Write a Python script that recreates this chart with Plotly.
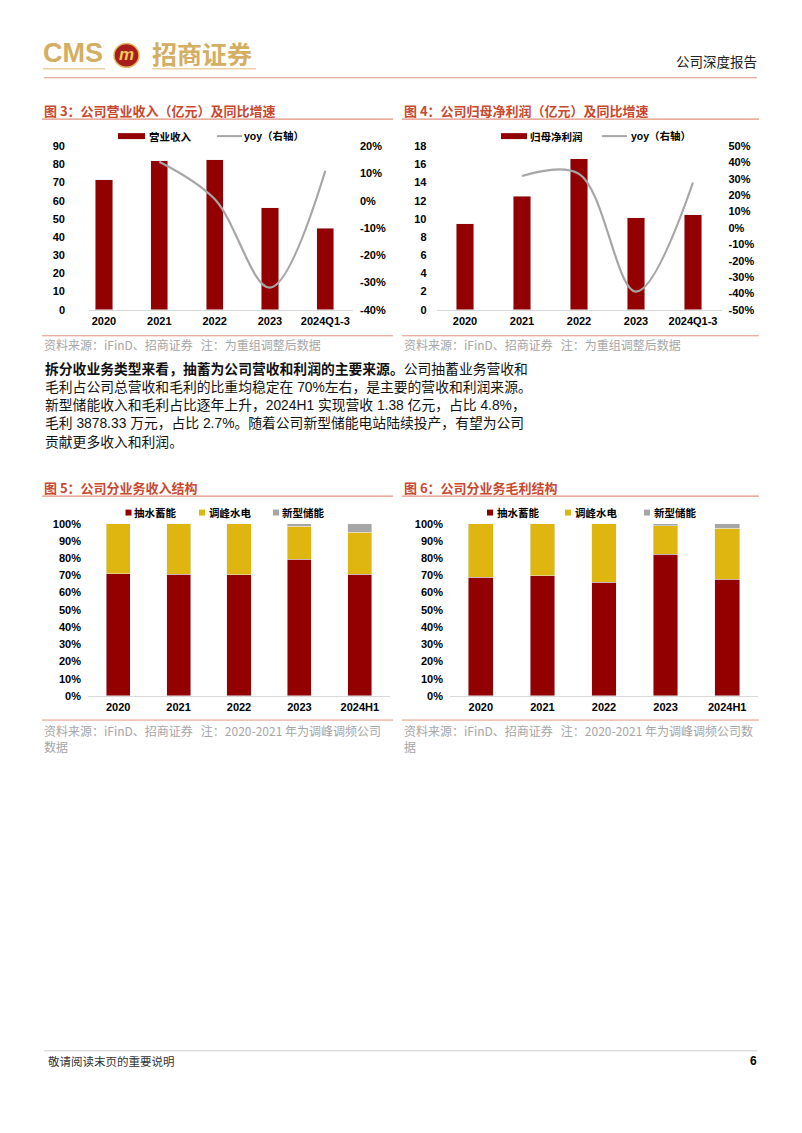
import plotly.graph_objects as go

# ---------------- data ----------------
years_a = ["2020", "2021", "2022", "2023", "2024Q1-3"]
revenue = [71.6, 82.0, 82.5, 56.2, 44.9]            # 营业收入 (亿元)
revenue_yoy = [None, 14.3, 0.6, -31.9, 11.0]        # yoy %
profit = [9.46, 12.47, 16.6, 10.15, 10.47]          # 归母净利润 (亿元)
profit_yoy = [None, 31.8, 33.1, -38.9, 27.8]        # yoy %

years_b = ["2020", "2021", "2022", "2023", "2024H1"]
rev_pumped = [70.9, 70.7, 70.5, 79.5, 70.7]         # 抽水蓄能
rev_peak = [29.1, 29.3, 29.5, 19.0, 24.5]           # 调峰水电
rev_new = [0.0, 0.0, 0.0, 1.5, 4.8]                 # 新型储能
gp_pumped = [68.8, 69.9, 65.9, 82.4, 67.8]
gp_peak = [31.2, 30.1, 34.1, 16.4, 29.5]
gp_new = [0.0, 0.0, 0.0, 1.2, 2.7]

# right-axis tick labels (hyphen minus as in the reference)
yoy3_ticks = [-40, -30, -20, -10, 0, 10, 20]
yoy3_labels = ["-40%", "-30%", "-20%", "-10%", "0%", "10%", "20%"]
yoy4_ticks = [-50, -40, -30, -20, -10, 0, 10, 20, 30, 40, 50]
yoy4_labels = ["-50%", "-40%", "-30%", "-20%", "-10%", "0%", "10%", "20%", "30%", "40%", "50%"]

# ---------------- styles ----------------
W, H = 802, 1133
RED = "#920000"
YEL = "#DEB60F"
GRY = "#A6A6A6"
TITLE_RED = "#C8492E"
LINE_RED = "#E2927E"
GOLD = "#D4AE62"
NUM_FONT = "Liberation Sans, Arial, Noto Sans CJK SC"
CJK_FONT = "Noto Sans CJK SC, Liberation Sans"


def X(x):
    return x / W


def Y(y):
    return 1 - y / H


TF = dict(family=NUM_FONT, size=11, color="#000000", weight="bold")

fig = go.Figure()

# Chart 3
fig.add_trace(go.Bar(x=years_a, y=revenue, name="营业收入", marker_color=RED,
                     width=0.31, xaxis="x", yaxis="y"))
fig.add_trace(go.Scatter(x=years_a, y=revenue_yoy, name="yoy（右轴）", mode="lines",
                         line=dict(color=GRY, width=2.2, shape="spline", smoothing=1.0),
                         xaxis="x", yaxis="y2"))
# Chart 4
fig.add_trace(go.Bar(x=years_a, y=profit, name="归母净利润", marker_color=RED,
                     width=0.30, xaxis="x2", yaxis="y3"))
fig.add_trace(go.Scatter(x=years_a, y=profit_yoy, name="yoy（右轴）", mode="lines",
                         line=dict(color=GRY, width=2.2, shape="spline", smoothing=1.0),
                         xaxis="x2", yaxis="y4"))
# Chart 5
for vals, col, nm in [(rev_pumped, RED, "抽水蓄能"), (rev_peak, YEL, "调峰水电"), (rev_new, GRY, "新型储能")]:
    fig.add_trace(go.Bar(x=years_b, y=vals, name=nm, marker_color=col, width=0.4,
                         xaxis="x3", yaxis="y5"))
# Chart 6
for vals, col, nm in [(gp_pumped, RED, "抽水蓄能"), (gp_peak, YEL, "调峰水电"), (gp_new, GRY, "新型储能")]:
    fig.add_trace(go.Bar(x=years_b, y=vals, name=nm, marker_color=col, width=0.4,
                         xaxis="x4", yaxis="y6"))


def xax(d0, d1, rng, anchor):
    return dict(domain=[X(d0), X(d1)], range=rng, type="category", anchor=anchor,
                showline=True, linecolor="#D9D9D9", linewidth=1, ticks="",
                showgrid=False, zeroline=False, tickfont=TF, fixedrange=True,
                ticklabelstandoff=1)


def yax(top, bot, rng, dtick, anchor, standoff, suffix="", side="left", overlay=None,
        tickvals=None, ticktext=None):
    d = dict(range=rng, dtick=dtick, anchor=anchor, side=side, showgrid=False,
             zeroline=False, showline=False, ticks="", tickfont=TF,
             ticksuffix=suffix, fixedrange=True, ticklabelstandoff=standoff)
    if tickvals is not None:
        d.update(tickmode="array", tickvals=tickvals, ticktext=ticktext, ticksuffix="")
    if overlay:
        d["overlaying"] = overlay
    else:
        d["domain"] = [Y(bot), Y(top)]
    return d


fig.update_layout(
    width=W, height=H, margin=dict(l=0, r=0, t=0, b=0), autosize=False,
    paper_bgcolor="white", plot_bgcolor="white", barmode="stack", showlegend=False,
    xaxis=xax(89, 353, [-0.27, 4.5], "y"),
    yaxis=yax(141.7, 307, [0, 90], 10, "x", 23),
    yaxis2=yax(141.7, 307, [-40, 20], 10, "x", 6, "", "right", "y", yoy3_ticks, yoy3_labels),
    xaxis2=xax(436.5, 721.5, [-0.5, 4.5], "y3"),
    yaxis3=yax(141.7, 307, [0, 18], 2, "x2", 9),
    yaxis4=yax(141.7, 307, [-50, 50], 10, "x2", 6, "", "right", "y3", yoy4_ticks, yoy4_labels),
    xaxis3=xax(88, 390, [-0.5, 4.5], "y5"),
    yaxis5=yax(523.3, 697.3, [0, 100], 10, "x3", 6, "%"),
    xaxis4=xax(450, 758, [-0.5, 4.5], "y6"),
    yaxis6=yax(523.3, 697.3, [0, 100], 10, "x4", 6, "%"),
)

shapes = []
annotations = []


def hline(x0, x1, y, color, width=1.0):
    shapes.append(dict(type="line", xref="paper", yref="paper", x0=X(x0), x1=X(x1),
                       y0=Y(y), y1=Y(y), line=dict(color=color, width=width)))


def rect(x0, x1, y0, y1, color):
    shapes.append(dict(type="rect", xref="paper", yref="paper", x0=X(x0), x1=X(x1),
                       y0=Y(y1), y1=Y(y0), fillcolor=color, line=dict(width=0)))


def text(x, y, s, size, color="#000000", family=CJK_FONT, weight="normal", anchor="left",
         yanchor="middle", align="left"):
    annotations.append(dict(text=s, x=X(x), y=Y(y), xref="paper", yref="paper",
                            xanchor=anchor, yanchor=yanchor, showarrow=False,
                            borderpad=0, align=align,
                            font=dict(family=family, size=size, color=color, weight=weight)))


# ---------- header ----------
text(42, 48, "CMS", 27, GOLD, NUM_FONT, "bold")
shapes.append(dict(type="circle", xref="paper", yref="paper", x0=X(114), x1=X(139),
                   y0=Y(62), y1=Y(38), fillcolor="#A81E1A", line=dict(color="#E2BC62", width=1.5)))
text(126.5, 49, "<i>m</i>", 17, "#F0C95A", NUM_FONT, "bold", "center")
text(151, 48, "招商证券", 25, GOLD, CJK_FONT, "bold")
hline(43, 105, 63.5, "#E8D2A4", 1.5)
hline(152, 256, 63.5, "#E8D2A4", 1.5)
hline(44, 757, 72.5, "#D99585", 1.2)
text(758, 56, "公司深度报告", 13.5, "#222222", CJK_FONT, "normal", "right")

# ---------- chart titles ----------
text(43, 105.5, "图 3：公司营业收入（亿元）及同比增速", 13, TITLE_RED, CJK_FONT, "bold")
hline(42, 393, 114.3, LINE_RED, 1.2)
text(403, 105.5, "图 4：公司归母净利润（亿元）及同比增速", 13, TITLE_RED, CJK_FONT, "bold")
hline(402, 759, 114.3, LINE_RED, 1.2)
text(43, 486.5, "图 5：公司分业务收入结构", 13, TITLE_RED, CJK_FONT, "bold")
hline(42, 393, 495.3, LINE_RED, 1.2)
text(403, 486.5, "图 6：公司分业务毛利结构", 13, TITLE_RED, CJK_FONT, "bold")
hline(402, 759, 495.3, LINE_RED, 1.2)

# ---------- legends ----------
LF = 10.5
rect(118, 145, 128.5, 134.5, RED)
text(148, 131.5, "营业收入", LF, "#000000", CJK_FONT, "bold")
hline(217, 242, 131.5, GRY, 2)
text(243, 131.5, "yoy（右轴）", LF, "#000000", NUM_FONT, "bold")

rect(501, 527, 128.5, 134.5, RED)
text(529, 131.5, "归母净利润", LF, "#000000", CJK_FONT, "bold")
hline(602, 627, 131.5, GRY, 2)
text(630, 131.5, "yoy（右轴）", LF, "#000000", NUM_FONT, "bold")

for (sx, tx, col, lab) in [(125.5, 133, RED, "抽水蓄能"), (199, 207.5, YEL, "调峰水电"), (273, 281, GRY, "新型储能")]:
    rect(sx, sx + 6, 509, 515, col)
    text(tx, 512, lab, LF, "#000000", CJK_FONT, "bold")
for (sx, tx, col, lab) in [(487, 496, RED, "抽水蓄能"), (565, 574, YEL, "调峰水电"), (644, 653, GRY, "新型储能")]:
    rect(sx, sx + 6, 509, 515, col)
    text(tx, 512, lab, LF, "#000000", CJK_FONT, "bold")

# ---------- sources ----------
SRC = "#A6A6A6"
sp = "\u00a0\u00a0\u00a0"
hline(42, 393, 333.3, LINE_RED, 1)
hline(402, 759, 333.3, LINE_RED, 1)
text(43, 342, "资料来源：iFinD、招商证券" + sp + "注：为重组调整后数据", 12, SRC)
text(403, 342, "资料来源：iFinD、招商证券" + sp + "注：为重组调整后数据", 12, SRC)
hline(42, 393, 721.7, LINE_RED, 1)
hline(402, 759, 721.7, LINE_RED, 1)
text(43, 723, "资料来源：iFinD、招商证券" + sp + "注：2020-2021 年为调峰调频公司<br>数据",
     12, SRC, yanchor="top")
text(403, 723, "资料来源：iFinD、招商证券" + sp + "注：2020-2021 年为调峰调频公司数<br>据",
     12, SRC, yanchor="top")

# ---------- paragraph ----------
para = [
    "<b>拆分收业务类型来看，抽蓄为公司营收和利润的主要来源。</b>公司抽蓄业务营收和",
    "毛利占公司总营收和毛利的比重均稳定在 70%左右，是主要的营收和利润来源。",
    "新型储能收入和毛利占比逐年上升，2024H1 实现营收 1.38 亿元，占比 4.8%，",
    "毛利 3878.33 万元，占比 2.7%。随着公司新型储能电站陆续投产，有望为公司",
    "贡献更多收入和利润。",
]
for i, line in enumerate(para):
    text(44, 367 + i * 18.3, line, 13.8, "#111111", NUM_FONT)

# ---------- footer ----------
hline(44, 757, 1056, "#CFCFCF", 1)
text(47, 1066, "敬请阅读末页的重要说明", 11.5, "#333333")
text(758, 1066, "6", 12, "#000000", NUM_FONT, "bold", "right")

fig.update_layout(shapes=shapes, annotations=annotations)
fig.write_html("out.html", config={"displayModeBar": False})
